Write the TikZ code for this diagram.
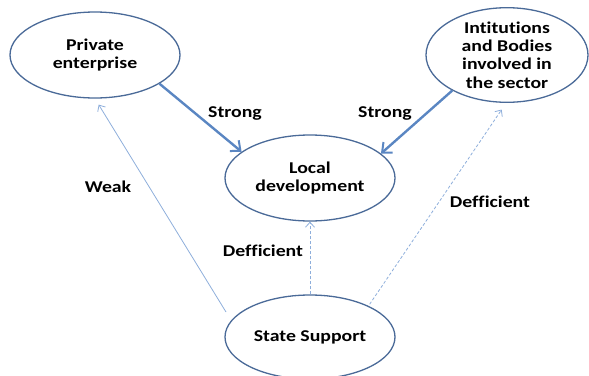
\documentclass[tikz,border=0pt]{standalone}
\usepackage{fontspec}
\setmainfont{Carlito}[FakeStretch=1.2,Ligatures=NoCommon]
\usetikzlibrary{shapes.geometric,arrows.meta}
\definecolor{edgeblue}{HTML}{4A6A98}
\definecolor{strongblue}{HTML}{5A86C2}
\definecolor{thinblue}{HTML}{8EAEDB}
\tikzset{
  x=1pt,y=-1pt,
  oval/.style={ellipse,draw=edgeblue,line width=1.3pt,fill=white,inner sep=0pt,
    font=\bfseries\fontsize{16.5}{18.4}\selectfont,align=center},
  lbl/.style={font=\bfseries\fontsize{16.5}{18.4}\selectfont,inner sep=0pt},
  strongarrow/.style={draw=strongblue,line width=2.4pt,-{Straight Barb[length=8pt,width=14pt,line width=2pt]}},
  weakarrow/.style={draw=thinblue,line width=0.8pt,-{Straight Barb[length=5pt,width=9pt,line width=0.8pt]}},
  deficarrow/.style={weakarrow,dashed,dash pattern=on 3pt off 2pt}
}
\begin{document}
\begin{tikzpicture}
\useasboundingbox (0,0) rectangle (589,375);
\node[oval,minimum width=170pt,minimum height=86pt] (pe) at (95,55) {Private\\enterprise};
\node[oval,minimum width=162pt,minimum height=86pt] (inst) at (507,55) {Intitutions\\and Bodies\\involved in\\the sector};
\node[oval,minimum width=170pt,minimum height=86pt] (ld) at (310,178) {Local\\development};
\node[oval,minimum width=170pt,minimum height=84pt] (ss) at (310,337) {State Support};
\coordinate (wkstart) at (226,312);

\draw[strongarrow] (pe.-24) -- (ld.159);
\draw[strongarrow] (inst.-147) -- (ld.19);
\draw[weakarrow,shorten >=7pt] (wkstart) -- (pe.south);
\draw[deficarrow] (ss.north) -- (ld.south);
\draw[deficarrow,shorten <=2pt,shorten >=8pt] (ss.28) -- (inst.-91);

\node[lbl] (l1) at (235,113) {Strong};
\node[lbl] (l2) at (385,113) {Strong};
\node[lbl] (l3) at (108,187) {Weak};
\node[lbl] (l4) at (263,251) {Defficient};
\node[lbl] (l5) at (490,202) {Defficient};
\end{tikzpicture}
\end{document}
